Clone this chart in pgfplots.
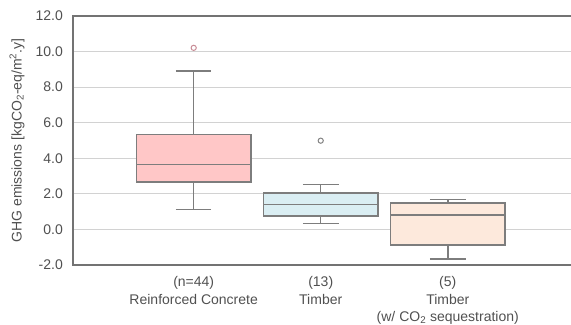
\documentclass[border=0pt]{standalone}
\usepackage{fontspec}
\setmainfont{Liberation Sans}
\usepackage{pgfplots}
\pgfplotsset{compat=1.18}
\usepgfplotslibrary{statistics}
\usetikzlibrary{calc}
\definecolor{txt}{RGB}{80,80,80}
\definecolor{spine}{RGB}{115,115,115}
\definecolor{gridc}{RGB}{210,210,210}
\definecolor{edge}{RGB}{125,125,125}
\definecolor{fillA}{RGB}{255,199,199}
\definecolor{fillB}{RGB}{218,238,243}
\definecolor{fillC}{RGB}{253,233,220}
\definecolor{outA}{RGB}{200,140,150}
\definecolor{outB}{RGB}{130,130,130}
\begin{document}
\begin{tikzpicture}
\begin{axis}[
  name=ax,
  scale only axis,
  width=498pt, height=249pt,
  xmin=-0.95, xmax=2.97,
  ymin=-2, ymax=12,
  ytick={-2,0,2,4,6,8,10,12},
  xtick={0,1,2},
  xticklabels={{(n=44)\\Reinforced Concrete},{(13)\\Timber},{(5)\\Timber\\(w/ CO\textsubscript{2} sequestration)}},
  major tick length=0pt,
  ymajorgrids,
  grid style={gridc, line width=1pt},
  axis line style={draw=none},
  clip=false,
  font=\fontsize{14}{17}\selectfont,
  tick label style={txt, font=\fontsize{14}{17}\selectfont},
  xticklabel style={align=center, anchor=north, inner sep=0pt, yshift=-11.5pt, font=\fontsize{14}{17.2}\selectfont},
  yticklabel style={inner sep=0pt, xshift=-10pt, anchor=east},
  /pgf/number format/assume math mode=true,
  yticklabel={\pgfmathprintnumber[fixed,fixed zerofill,precision=1]{\tick}},
  ylabel={GHG emissions [kgCO\textsubscript{2}-eq/m\textsuperscript{2}.y]},
  ylabel style={txt, at={(axis description cs:-0.1125,0.5)}, anchor=center, inner sep=0pt},
  boxplot/draw direction=y,
  boxplot/box extend=0.9,
  boxplot/whisker extend=0.28,
]
\addplot+[boxplot prepared={draw position=0, lower whisker=1.11, lower quartile=2.68, median=3.66, upper quartile=5.35, upper whisker=8.92},
  draw=edge, fill=fillA, line width=1.5pt, solid,
  mark=o, mark size=2.6pt, mark options={draw=outA, fill=none, line width=1pt}]
  coordinates {(0,10.21)};
\addplot+[boxplot prepared={draw position=1, lower whisker=0.32, lower quartile=0.75, median=1.39, upper quartile=2.06, upper whisker=2.53},
  draw=edge, fill=fillB, line width=1.5pt, solid,
  mark=o, mark size=2.6pt, mark options={draw=outB, fill=none, line width=1pt}]
  coordinates {(1,4.99)};
\addplot+[boxplot prepared={draw position=2, lower whisker=-1.66, lower quartile=-0.88, median=0.81, upper quartile=1.48, upper whisker=1.69},
  draw=edge, fill=fillC, line width=1.5pt, solid, mark=none]
  table[row sep=\\, y index=0] {\\};
\draw[spine, line width=1.8pt] (rel axis cs:1,1) -- (rel axis cs:0,1) -- (rel axis cs:0,0) -- (rel axis cs:1,0);
\end{axis}
\pgfresetboundingbox
\path[use as bounding box] ($(ax.south west)+(-73pt,-59pt)$) rectangle ($(ax.north east)+(0pt,16pt)$);
\end{tikzpicture}
\end{document}
